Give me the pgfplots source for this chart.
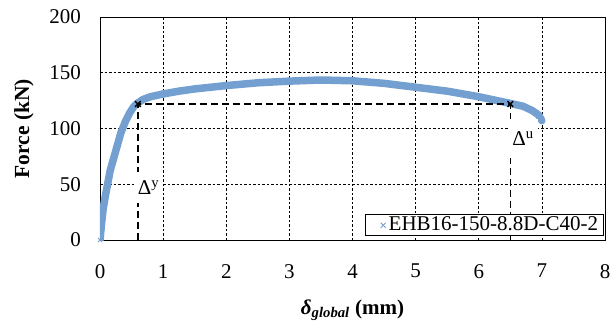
\documentclass[border=0pt]{standalone}
\usepackage{fontspec}
\setmainfont{Liberation Serif}
\usepackage{pgfplots}
\pgfplotsset{compat=1.18}
\definecolor{curveblue}{RGB}{115,160,208}
\begin{document}
\fontsize{21}{24}\selectfont
\begin{tikzpicture}
\useasboundingbox (-100pt,-90pt) rectangle (515pt,240pt);
\begin{axis}[
  at={(0,0)}, anchor=south west,
  scale only axis, width=505pt, height=223pt,
  xmin=0, xmax=8, ymin=0, ymax=200,
  xtick={0,1,...,8}, ytick={0,50,...,200},
  major tick length=0pt,
  /pgf/number format/assume math mode=true,
  tick label style={font=\fontsize{21}{24}\selectfont},
  xticklabel style={yshift=-17pt},
  yticklabel style={xshift=-12pt},
  grid=major,
  grid style={black, line width=0.6pt, dash pattern=on 2.5pt off 2pt},
  axis line style={black, line width=0.8pt},
  every axis y label/.style={at={(axis description cs:0,0.5)}, xshift=-76pt, rotate=90, anchor=center},
  every axis x label/.style={at={(axis description cs:0.5,0)}, yshift=-70pt, anchor=center},
  ylabel={\fontsize{21.5}{24}\selectfont\textbf{Force (kN)}},
  xlabel={\fontsize{21}{24}\selectfont\textbf{\textit{δ}\textsubscript{\textit{global}} (mm)}},
  legend style={at={(0.997,0.017)}, anchor=south east, draw=black, line width=0.8pt,
    font=\fontsize{21}{22}\selectfont, inner xsep=3pt, inner ysep=0pt, row sep=0pt},
  legend cell align=left,
]
\addplot[curveblue, line width=7.5pt, line join=round, line cap=round, forget plot] coordinates {
(0,0) (0.02,12) (0.05,28) (0.08,38) (0.12,50) (0.16,62) (0.21,72) (0.27,84)
(0.33,96) (0.4,106) (0.47,114) (0.54,120) (0.6,123) (0.68,126) (0.8,128.5)
(1.0,131) (1.25,133.5) (1.5,135.5) (2.0,138.5) (2.5,141) (3.0,142.5) (3.5,143.5)
(4.0,142.8) (4.5,140.5) (5.0,137) (5.5,133.5) (6.0,128.5) (6.5,122.5) (6.7,120)
(6.85,116) (6.95,112) (7.0,107)
};
\addplot[black, line width=1.6pt, dash pattern=on 7pt off 4pt, forget plot] coordinates {(0.6,0) (0.6,122) (6.5,122) (6.5,0)};
\addplot[black, only marks, mark=x, mark size=4pt, line width=1.4pt, forget plot] coordinates {(0.6,122) (6.5,122)};
\node[fill=white, inner xsep=4pt, inner ysep=8pt] at (axis cs:0.77,47) {Δ\textsuperscript{y}};
\node[fill=white, inner xsep=4pt, inner ysep=12pt] at (axis cs:6.7,91) {Δ\textsuperscript{u}};
\addplot[curveblue, only marks, mark=x, mark size=3pt, line width=0.9pt,
  legend image code/.code={\path (0pt,0pt) (0.6cm,0pt);\draw[curveblue, line width=0.9pt] (11.5pt,-2.5pt) -- (16.5pt,2.5pt) (11.5pt,2.5pt) -- (16.5pt,-2.5pt);}] coordinates {(0,0)};
\addlegendentry{EHB16-150-8.8D-C40-2}
\end{axis}
\end{tikzpicture}
\end{document}
